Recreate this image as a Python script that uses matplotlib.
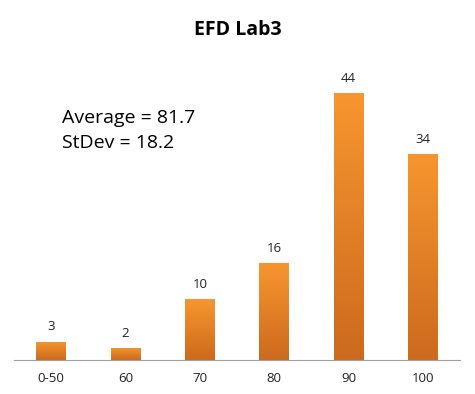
import numpy as np
import matplotlib.pyplot as plt
from matplotlib.colors import LinearSegmentedColormap

categories = ['0-50', '60', '70', '80', '90', '100']
counts = [3, 2, 10, 16, 44, 34]
average = 81.7
stdev = 18.2

plt.rcParams['font.family'] = ['Open Sans', 'DejaVu Sans']

fig = plt.figure(figsize=(4.75, 3.94), dpi=100)
ax = fig.add_axes([14/475, 1 - 360/394, 446/475, 303/394])

x = np.arange(len(categories))
bars = ax.bar(x, counts, width=0.40, color='#E98325', edgecolor='none')

# vertical gradient inside each bar
cmap = LinearSegmentedColormap.from_list('orange', ['#CC6A1E', '#F7962F'])
grad = np.linspace(0, 1, 256).reshape(-1, 1)
for i, b in enumerate(bars):
    bx, by = b.get_x(), b.get_y()
    w, h = b.get_width(), b.get_height()
    im = ax.imshow(grad, cmap=cmap, origin='lower', aspect='auto',
            extent=[bx, bx + w, by, by + h], zorder=2)
    im.set_clip_path(b)
    ax.annotate(str(counts[i]), (bx + w/2, h), xytext=(0, 6),
            textcoords='offset points', ha='center', va='bottom',
            fontsize=9.5, color='#222222')

ax.set_xlim(-0.5, len(categories) - 0.5)
ax.set_ylim(0, 50)
ax.set_xticks(x)
ax.set_xticklabels(categories, fontsize=9.5, color='#222222')
ax.tick_params(axis='x', length=0, pad=9)
ax.set_yticks([])
for side in ['top', 'right', 'left']:
    ax.spines[side].set_visible(False)
ax.spines['bottom'].set_color('#A0A0A0')

fig.text(0.5, 1 - 30/394, 'EFD Lab3', ha='center', va='center',
        fontsize=14, fontweight='bold')
fig.text(62/475, 1 - 118/394, 'Average = %.1f' % average, ha='left',
        va='center', fontsize=14)
fig.text(62/475, 1 - 143/394, 'StDev = %.1f' % stdev, ha='left',
        va='center', fontsize=14)

fig.savefig('out.png', dpi=100)
